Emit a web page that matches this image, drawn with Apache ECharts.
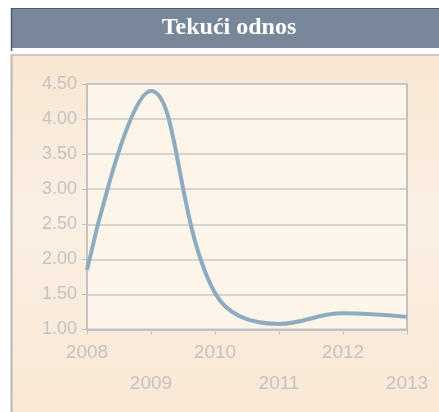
<!DOCTYPE html>
<html>
<head>
<meta charset="utf-8">
<script src="https://cdn.jsdelivr.net/npm/echarts@6/dist/echarts.min.js"></script>
<style>
html,body{margin:0;padding:0;background:#ffffff;}
#c{width:439px;height:412px;}
</style>
</head>
<body>
<div id="c"></div>
<script>
var titleText = 'Tekući odnos';
var years = ['2008', '2009', '2010', '2011', '2012', '2013'];
var ratio = [1.85, 4.40, 1.52, 1.08, 1.23, 1.18];
var yTicks = [1.0, 4.5, 0.5]; // min, max, interval

var chart = echarts.init(document.getElementById('c'), null, {renderer: 'canvas'});
chart.setOption({
  animation: false,
  graphic: [
    {type: 'rect', silent: true, z: -10, shape: {x: 11, y: 55, width: 428, height: 357},
      style: {fill: new echarts.graphic.LinearGradient(0, 0, 0, 1, [
        {offset: 0, color: '#f8e6d1'}, {offset: 0.45, color: '#fbf0e4'}, {offset: 1, color: '#f9e8d4'}]),
        stroke: null}},
    {type: 'line', silent: true, z: -5, shape: {x1: 11, y1: 55, x2: 439, y2: 55}, style: {stroke: '#c9c9c9', lineWidth: 2}},
    {type: 'line', silent: true, z: -5, shape: {x1: 11.5, y1: 55, x2: 11.5, y2: 412}, style: {stroke: '#b8b8b8', lineWidth: 2}},
    {type: 'rect', silent: true, z: 5, shape: {x: 11, y: 8, width: 428, height: 40},
      style: {fill: '#788799', stroke: null}},
    {type: 'line', silent: true, z: 6, shape: {x1: 11, y1: 8.5, x2: 439, y2: 8.5}, style: {stroke: '#4f5d63', lineWidth: 1}},
    {type: 'line', silent: true, z: 6, shape: {x1: 11.5, y1: 8, x2: 11.5, y2: 51}, style: {stroke: '#4f5d63', lineWidth: 1.5}},
    {type: 'text', silent: true, z: 7, x: 229, y: 28,
      style: {text: titleText, fill: '#ffffff', font: 'bold 24px "Liberation Serif", "DejaVu Serif", serif',
        textAlign: 'center', textVerticalAlign: 'middle'}}
  ],
  grid: {left: 87, right: 32, top: 84, bottom: 82.5, show: true,
    backgroundColor: '#fcf5ea', borderColor: '#c2c2c2', borderWidth: 2},
  xAxis: {
    type: 'category', data: years, boundaryGap: false,
    axisLine: {lineStyle: {color: '#c2c2c2', width: 2}},
    axisTick: {show: true, alignWithLabel: true, length: 5, lineStyle: {color: '#c2c2c2', width: 1}},
    axisLabel: {interval: 0, margin: 8, color: '#c3c3c3', fontSize: 19, lineHeight: 31,
      fontFamily: '"Liberation Sans", Arial, sans-serif',
      formatter: function (v, i) { return i % 2 === 1 ? '\n' + v : v; }},
    splitLine: {show: false}
  },
  yAxis: {
    type: 'value', min: yTicks[0], max: yTicks[1], interval: yTicks[2],
    axisLine: {show: true, lineStyle: {color: '#c2c2c2', width: 2}},
    axisTick: {show: true, length: 5, lineStyle: {color: '#c2c2c2', width: 1}},
    axisLabel: {margin: 10, color: '#c3c3c3', fontSize: 18,
      fontFamily: '"Liberation Sans", Arial, sans-serif',
      formatter: function (v) { return v.toFixed(2); }},
    splitLine: {show: true, lineStyle: {color: '#c8c8c8', width: 1.5}}
  },
  series: [{
    type: 'line', data: ratio, smooth: 0.4, symbol: 'none',
    lineStyle: {color: '#8eabc2', width: 4}
  }]
});
</script>
</body>
</html>
